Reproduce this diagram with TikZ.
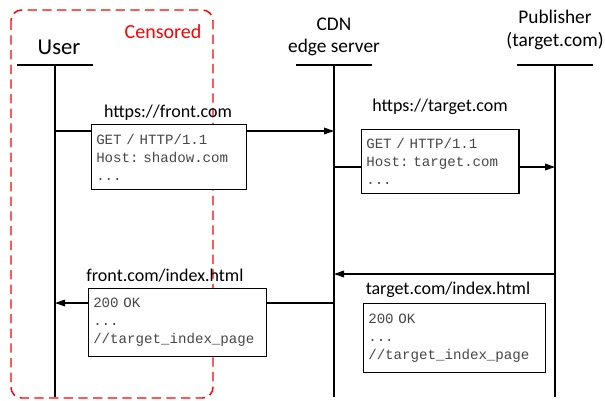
\documentclass[tikz,border=0pt]{standalone}
\usepackage{fontspec}
\setmainfont{Carlito}
\setmonofont{Liberation Mono}
\usepackage{tikz}
\usetikzlibrary{arrows.meta}

\begin{document}
\begin{tikzpicture}[x=0.75pt,y=-0.75pt]
\tikzset{hd/.style={align=center, font=\fontsize{14.5}{17}\selectfont},
  life/.style={line width=2.2pt},
  msg/.style={line width=0.9pt},
  tip/.style={-{Triangle[length=7.5pt,width=5pt]}},
  lbl/.style={font=\fontsize{13.5}{16}\selectfont},
  pkt/.style={draw, fill=white, line width=0.9pt, anchor=north west, align=left, inner xsep=3.5pt, font=\fontsize{10.6}{13.5}\ttfamily, text=black!72}};
\useasboundingbox (0,0) rectangle (605,400);
% censored zone
\draw [red, line width=1.1pt, dash pattern=on 7pt off 4pt, rounded corners=8pt] (11,10) rectangle (213,398);
\node [text=red, font=\fontsize{15}{18}\selectfont] (cens) at (163,32) {Censored};
% parties
\node [font=\fontsize{17}{20}\selectfont] (user) at (59,47) {User};
\node [hd] (cdn) at (334,37) {CDN\\edge server};
\node [hd] (pub) at (555,30) {Publisher\\(target.com)};
\coordinate (userT) at (55,65);   \coordinate (userB) at (55,397);
\coordinate (cdnT) at (334,65);   \coordinate (cdnB) at (334,397);
\coordinate (pubT) at (555,65);   \coordinate (pubB) at (555,397);
\draw [life] (17,65) -- (93,65);
\draw [life] (296,65) -- (372,65);
\draw [life] (517,65) -- (593,65);
\draw [life] (userT) -- (userB);
\draw [life] (cdnT) -- (cdnB);
\draw [life] (pubT) -- (pubB);
% request user -> cdn
\coordinate (m1) at (55,131);
\node [lbl] (l1) at (168,113) {https://front.com};
\node [pkt, text width=109pt, minimum height=48.75pt] (reqA) at (91,124) {GET\ /\ HTTP/1.1\\Host:\ shadow.com\\...};
\draw [msg] (m1) -- (m1 -| reqA.west);
\draw [msg, tip] (m1 -| reqA.east) -- (m1 -| cdnT);
% request cdn -> publisher
\coordinate (m2) at (334,167);
\node [lbl] (l2) at (440,107) {https://target.com};
\node [pkt, text width=111pt, minimum height=48pt] (reqB) at (361,129) {GET\ /\ HTTP/1.1\\Host:\ target.com\\...};
\draw [msg] (m2) -- (m2 -| reqB.west);
\draw [msg, tip] (m2 -| reqB.east) -- (m2 -| pubT);
% response publisher -> cdn
\coordinate (m3) at (555,274);
\draw [msg, tip] (m3) -- (m3 -| cdnT);
\node [lbl] (l3) at (448,290) {target.com/index.html};
\node [pkt, text width=129.5pt, minimum height=51.75pt] (respB) at (363,303) {200\ OK\\...\\//target\_index\_page};
% response cdn -> user
\coordinate (m4) at (334,303);
\node [lbl] (l4) at (165,276) {front.com/index.html};
\node [pkt, text width=126.5pt, minimum height=51pt] (respA) at (88,288) {200\ OK\\...\\//target\_index\_page};
\draw [msg] (m4) -- (m4 -| respA.east);
\draw [msg, tip] (m4 -| respA.west) -- (m4 -| userT);
\end{tikzpicture}
\end{document}
